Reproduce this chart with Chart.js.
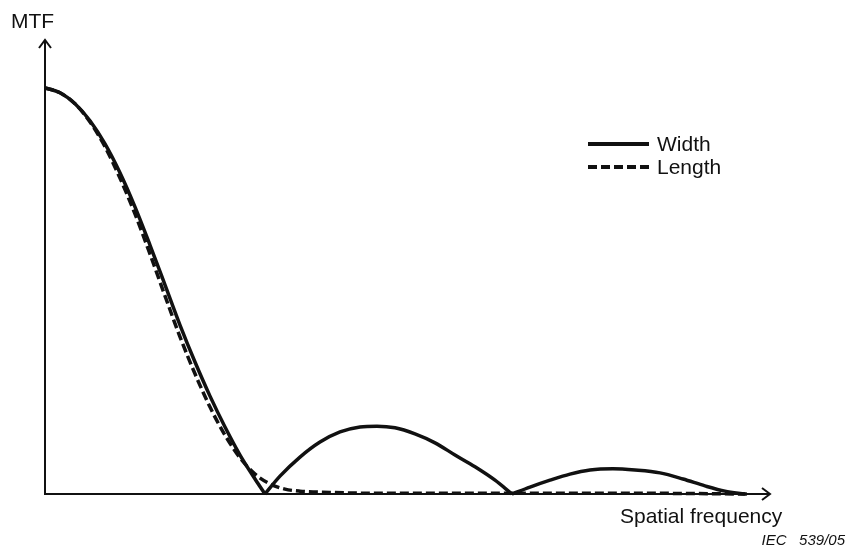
<!DOCTYPE html>
<html>
<head>
<meta charset="utf-8">
<script src="https://cdn.jsdelivr.net/npm/chart.js@4/dist/chart.umd.min.js"></script>
<style>
  html, body { margin: 0; padding: 0; background: #fff; }
  #grafica { display: block; }
</style>
</head>
<body>
<canvas id="grafica" width="847" height="547"></canvas>
<script>
// ------------- Datos (frecuencia en unidades arbitrarias, MTF normalizada) -------------

// Width: tres lobulos, el null separa los lobulos para que el pico sea agudo
let anchoX = [0, 0.207, 0.414, 0.621, 0.828, 1.034, 1.241, 1.448, 1.655, 1.862, 2.069, 2.276, 2.483, 2.69, 2.897, 3.034,
  3.034,
  3.034, 3.241, 3.517, 3.793, 4.069, 4.345, 4.579, 4.828, 5.103, 5.379, 5.655, 5.931, 6.207, 6.441,
  6.441,
  6.441, 6.69, 6.966, 7.241, 7.517, 7.834, 8.138, 8.483, 8.8, 9.103, 9.379, 9.655];
let anchoY = [1, 0.988, 0.961, 0.919, 0.862, 0.791, 0.707, 0.613, 0.515, 0.416, 0.325, 0.241, 0.165, 0.096, 0.037, 0,
  null,
  0, 0.044, 0.091, 0.128, 0.153, 0.165, 0.167, 0.163, 0.148, 0.126, 0.096, 0.067, 0.034, 0,
  null,
  0, 0.017, 0.034, 0.049, 0.059, 0.062, 0.059, 0.052, 0.037, 0.02, 0.007, 0];

// Length: curva tipo gaussiana
let largoX = [0, 0.207, 0.414, 0.621, 0.828, 1.034, 1.241, 1.448, 1.655, 1.862, 2.069, 2.276, 2.483, 2.69, 2.897,
  3.103, 3.31, 3.517, 3.931, 4.483, 6, 8, 9.7];
let largoY = [1, 0.988, 0.961, 0.916, 0.855, 0.778, 0.69, 0.591, 0.488, 0.387, 0.296, 0.214, 0.145, 0.089, 0.049,
  0.025, 0.012, 0.007, 0.004, 0.002, 0.002, 0.002, 0];

let nombres = ["Width", "Length"];
let tituloY = "MTF";
let tituloX = "Spatial frequency";
let nota = "IEC   539/05";

// Limites de los ejes (hasta la punta de las flechas)
let maxX = 10;
let maxY = 1.118;

let negro = '#111111';
let fuente = '"Liberation Sans", Arial, sans-serif';

// Armamos los puntos
puntos = (xs, ys) => xs.map((x, i) => ({ x: x, y: ys[i] }));

// ------------- Plugin: ejes con flechas, textos y leyenda -------------
let ejesYTextos = {
  id: 'ejesYTextos',
  beforeDatasetsDraw(chart) {
    let ctx = chart.ctx;
    let sx = chart.scales.x;
    let sy = chart.scales.y;
    let x0 = sx.getPixelForValue(0);
    let y0 = sy.getPixelForValue(0);
    let xFin = sx.getPixelForValue(maxX);
    let yFin = sy.getPixelForValue(maxY);

    ctx.save();
    ctx.strokeStyle = negro;
    ctx.lineWidth = 2;
    ctx.lineCap = 'butt';

    // eje Y
    ctx.beginPath();
    ctx.moveTo(x0, y0 + 1);
    ctx.lineTo(x0, yFin);
    ctx.stroke();
    // flecha Y
    ctx.beginPath();
    ctx.moveTo(x0 - 6, yFin + 8);
    ctx.lineTo(x0, yFin);
    ctx.lineTo(x0 + 6, yFin + 8);
    ctx.stroke();

    // eje X
    ctx.beginPath();
    ctx.moveTo(x0 - 1, y0);
    ctx.lineTo(xFin, y0);
    ctx.stroke();
    // flecha X
    ctx.beginPath();
    ctx.moveTo(xFin - 8, y0 - 6);
    ctx.lineTo(xFin, y0);
    ctx.lineTo(xFin - 8, y0 + 6);
    ctx.stroke();
    ctx.restore();
  },
  afterDraw(chart) {
    let ctx = chart.ctx;
    ctx.save();
    ctx.fillStyle = negro;
    ctx.textBaseline = 'alphabetic';

    ctx.font = '21px ' + fuente;
    ctx.textAlign = 'left';
    ctx.fillText(tituloY, 11, 28);
    ctx.fillText(tituloX, 620, 523);

    ctx.font = 'italic 15px ' + fuente;
    ctx.textAlign = 'right';
    ctx.fillText(nota, 845, 545);

    // Leyenda
    let filas = [144, 167];
    chart.data.datasets.forEach((ds, i) => {
      ctx.strokeStyle = ds.borderColor;
      ctx.lineWidth = 4;
      ctx.setLineDash(ds.borderDash || []);
      ctx.beginPath();
      ctx.moveTo(588, filas[i]);
      ctx.lineTo(649, filas[i]);
      ctx.stroke();
      ctx.setLineDash([]);
      ctx.font = '21px ' + fuente;
      ctx.textAlign = 'left';
      ctx.fillText(ds.label, 657, filas[i] + 7);
    });
    ctx.restore();
  }
};

// ------------- Grafica -------------
let data1 = {
  datasets: [{
      label: nombres[0],
      data: puntos(anchoX, anchoY),
      borderColor: negro,
      borderWidth: 3.5,
      pointRadius: 0,
      cubicInterpolationMode: 'monotone',
      spanGaps: false,
      clip: false,
    },
    {
      label: nombres[1],
      data: puntos(largoX, largoY),
      borderColor: negro,
      borderWidth: 3.5,
      borderDash: [9, 4],
      pointRadius: 0,
      cubicInterpolationMode: 'monotone',
      clip: false,
    },
  ],
};

let config1 = {
  type: 'line',
  data: data1,
  options: {
    responsive: false,
    animation: false,
    devicePixelRatio: 1,
    layout: {
      padding: { left: 45, right: 77, top: 40, bottom: 53 }
    },
    plugins: {
      legend: { display: false },
      tooltip: { enabled: false },
    },
    scales: {
      x: { type: 'linear', min: 0, max: maxX, display: false },
      y: { type: 'linear', min: 0, max: maxY, display: false },
    },
  },
  plugins: [ejesYTextos],
};

let grafica = new Chart(document.getElementById('grafica'), config1);
</script>
</body>
</html>
